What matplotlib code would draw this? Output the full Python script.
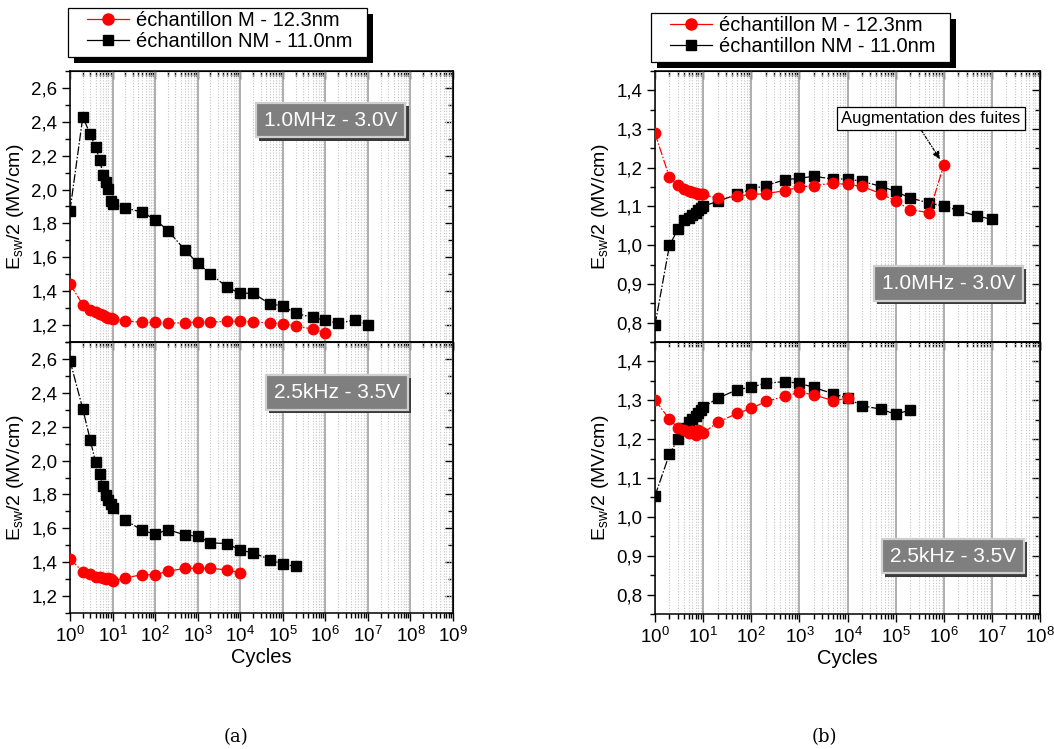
import matplotlib
matplotlib.use("Agg")
import matplotlib.pyplot as plt
from matplotlib.ticker import FixedLocator, LogLocator, NullFormatter, AutoMinorLocator, FuncFormatter, MultipleLocator
from matplotlib.patches import Rectangle
from matplotlib.lines import Line2D
import matplotlib.patheffects as pe

plt.rcParams['font.family'] = ['Liberation Sans', 'DejaVu Sans']
plt.rcParams['mathtext.fontset'] = 'custom'
plt.rcParams['mathtext.rm'] = 'Liberation Sans'
plt.rcParams['mathtext.it'] = 'Liberation Sans:italic'

# ---------------- data ----------------
cycles = [1, 2, 3, 4, 5, 6, 7, 8, 9, 10, 20, 50, 100, 200, 500, 1e3, 2e3, 5e3,
          1e4, 2e4, 5e4, 1e5, 2e5, 5e5, 1e6, 2e6, 5e6, 1e7]

# (a) 1.0MHz - 3.0V
a_top_M = [1.442, 1.320, 1.289, 1.275, 1.265, 1.257, 1.249, 1.243, 1.239, 1.235,
           1.225, 1.216, 1.216, 1.210, 1.214, 1.218, 1.218, 1.222, 1.222, 1.218,
           1.212, 1.208, 1.196, 1.176, 1.156]
a_top_NM = [1.876, 2.428, 2.326, 2.251, 2.176, 2.087, 2.044, 2.002, 1.935, 1.912,
            1.892, 1.866, 1.823, 1.758, 1.644, 1.565, 1.502, 1.423, 1.387, 1.389,
            1.324, 1.314, 1.269, 1.245, 1.229, 1.210, 1.231, 1.202]
# (a) 2.5kHz - 3.5V
a_bot_M = [1.419, 1.344, 1.332, 1.313, 1.313, 1.308, 1.303, 1.308, 1.303, 1.289,
           1.308, 1.326, 1.326, 1.346, 1.364, 1.364, 1.364, 1.354, 1.338]
a_bot_NM = [2.590, 2.304, 2.120, 1.990, 1.918, 1.849, 1.795, 1.766, 1.742, 1.717,
            1.648, 1.588, 1.565, 1.592, 1.561, 1.553, 1.514, 1.510, 1.470, 1.456,
            1.415, 1.389, 1.375]
# (b) 1.0MHz - 3.0V
b_top_M = [1.289, 1.175, 1.156, 1.145, 1.141, 1.138, 1.135, 1.133, 1.131, 1.131,
           1.121, 1.126, 1.131, 1.133, 1.141, 1.150, 1.154, 1.160, 1.157, 1.152,
           1.133, 1.114, 1.092, 1.084, 1.207]
b_top_NM = [0.794, 1.000, 1.041, 1.066, 1.071, 1.077, 1.084, 1.091, 1.097, 1.101,
            1.113, 1.131, 1.145, 1.154, 1.169, 1.173, 1.178, 1.171, 1.171, 1.165,
            1.152, 1.139, 1.122, 1.109, 1.101, 1.090, 1.075, 1.067]
# (b) 2.5kHz - 3.5V
b_bot_M = [1.301, 1.251, 1.229, 1.224, 1.215, 1.220, 1.210, 1.224, 1.218, 1.216,
           1.243, 1.266, 1.279, 1.297, 1.310, 1.321, 1.314, 1.299, 1.305]
b_bot_NM = [1.054, 1.162, 1.200, 1.228, 1.243, 1.252, 1.260, 1.268, 1.275, 1.282,
            1.305, 1.327, 1.334, 1.344, 1.348, 1.344, 1.333, 1.317, 1.305, 1.286,
            1.277, 1.264, 1.275]

label_M = "échantillon M - 12.3nm"
label_NM = "échantillon NM - 11.0nm"
cond_top = "1.0MHz - 3.0V"
cond_bot = "2.5kHz - 3.5V"
ylabel = r"E$_{\mathregular{sw}}$/2 (MV/cm)"
xlabel = "Cycles"
a_xexp = list(range(0, 10))
b_xexp = list(range(0, 9))

# ---------------- figure ----------------
W, H = 1054, 749
fig = plt.figure(figsize=(W / 100, H / 100), dpi=100)


def px_axes(x0, y0, x1, y1):
    return fig.add_axes([x0 / W, 1 - y1 / H, (x1 - x0) / W, (y1 - y0) / H])


dash = (0, (7, 1.5, 1.2, 1.5))


def setup(ax, ylim, ystep, xexp, show_xlabels):
    ax.set_xscale('log')
    ax.set_xlim(10 ** xexp[0], 10 ** xexp[-1])
    ax.set_ylim(*ylim)
    ax.xaxis.set_major_locator(FixedLocator([10.0 ** e for e in xexp]))
    ax.xaxis.set_minor_locator(LogLocator(base=10, subs=range(2, 10), numticks=40))
    ax.xaxis.set_minor_formatter(NullFormatter())
    if show_xlabels:
        ax.set_xticklabels([r"$\mathregular{10^{%d}}$" % e for e in xexp])
        ax.set_xlabel(xlabel, fontsize=14.5, labelpad=2)
    else:
        ax.set_xticklabels([])
    ax.yaxis.set_major_locator(MultipleLocator(ystep))
    ax.yaxis.set_minor_locator(AutoMinorLocator(2))
    ax.yaxis.set_major_formatter(FuncFormatter(lambda v, p: ("%.1f" % v).replace('.', ',')))
    ax.tick_params(which='both', direction='out', top=False, right=False, labelsize=13.5, width=1)
    ax.tick_params(which='major', length=6, pad=3)
    ax.tick_params(which='minor', length=3.5)
    ax.set_axisbelow(True)
    ax.grid(True, which='major', axis='x', color='#a8a8a8', lw=1.3, ls='-')
    ax.grid(True, which='minor', axis='x', color='#c4c4c4', lw=0.8, ls=(0, (1, 1.5)))
    for s in ax.spines.values():
        s.set_linewidth(1.1)
    ax.set_ylabel(ylabel, fontsize=14, labelpad=4)
    # mirrored inward ticks
    sx = ax.secondary_xaxis('top')
    sx.xaxis.set_major_locator(FixedLocator([10.0 ** e for e in xexp]))
    sx.xaxis.set_minor_locator(LogLocator(base=10, subs=range(2, 10), numticks=40))
    sx.tick_params(which='both', direction='in', labeltop=False, width=1)
    sx.tick_params(which='major', length=6)
    sx.tick_params(which='minor', length=3.5)
    sx.xaxis.set_major_formatter(NullFormatter())
    sx.xaxis.set_minor_formatter(NullFormatter())
    sy = ax.secondary_yaxis('right')
    sy.yaxis.set_major_locator(MultipleLocator(ystep))
    sy.yaxis.set_minor_locator(AutoMinorLocator(2))
    sy.tick_params(which='both', direction='in', labelright=False, width=1)
    sy.tick_params(which='major', length=6)
    sy.tick_params(which='minor', length=3.5)


def plot_series(ax, yM, yNM):
    ax.plot(cycles[:len(yNM)], yNM, color='black', lw=0.9, ls=dash,
            marker='s', ms=6.5, mec='black', mfc='black', zorder=3)
    ax.plot(cycles[:len(yM)], yM, color='#ff0000', lw=0.9, ls=dash,
            marker='o', ms=7.5, mec='#ff0000', mfc='#ff0000', zorder=4)


def cond_box(ax, x, y, s):
    t = ax.text(x, y, s, transform=ax.transAxes, ha='center', va='center',
                color='white', fontsize=15, zorder=6,
                bbox=dict(boxstyle='square,pad=0.38', fc='#7f7f7f', ec='#cfcfcf', lw=1.6))
    t.get_bbox_patch().set_path_effects([
        pe.SimplePatchShadow(offset=(2.2, -2.2), shadow_rgbFace='#3a3a3a', alpha=1.0),
        pe.Normal()])


# (a)
axA1 = px_axes(70, 71, 453, 342)
axA2 = px_axes(70, 342, 453, 613)
setup(axA1, (1.1, 2.7), 0.2, a_xexp, False)
setup(axA2, (1.1, 2.7), 0.2, a_xexp, True)
plot_series(axA1, a_top_M, a_top_NM)
plot_series(axA2, a_bot_M, a_bot_NM)
cond_box(axA1, 0.681, 0.819, cond_top)
cond_box(axA2, 0.696, 0.815, cond_bot)

# (b)
axB1 = px_axes(655, 71, 1040, 342)
axB2 = px_axes(655, 342, 1040, 614)
setup(axB1, (0.75, 1.45), 0.1, b_xexp, False)
setup(axB2, (0.75, 1.45), 0.1, b_xexp, True)
plot_series(axB1, b_top_M, b_top_NM)
plot_series(axB2, b_bot_M, b_bot_NM)
cond_box(axB1, 0.762, 0.216, cond_top)
cond_box(axB2, 0.775, 0.213, cond_bot)

axB1.annotate("Augmentation des fuites", xy=(cycles[24], b_top_M[24]), xycoords='data',
              xytext=(0.717, 0.825), textcoords='axes fraction', ha='center', va='center',
              fontsize=12, zorder=7,
              bbox=dict(boxstyle='square,pad=0.25', fc='white', ec='black', lw=0.9),
              arrowprops=dict(arrowstyle='-|>', color='black', lw=0.9, ls=(0, (2, 1.5, 0.6, 1.5)),
                              relpos=(0.43, 0.0), shrinkA=0, shrinkB=5, mutation_scale=11))

# legends: frame + shadow drawn in pixel coordinates, entries from fig.legend
hM = Line2D([], [], color='#ff0000', lw=0.9, marker='o', ms=8)
hNM = Line2D([], [], color='black', lw=0.9, marker='s', ms=7)
for (fx0, fy0, fx1, fy1) in [(68, 8, 367, 57), (651, 13, 950, 62)]:
    # shadow
    fig.patches.append(Rectangle((fx0 + 6, H - fy1 - 6), fx1 - fx0, fy1 - fy0,
                                 transform=None, fc='black', ec='none', zorder=8))
    fig.patches.append(Rectangle((fx0, H - fy1), fx1 - fx0, fy1 - fy0,
                                 transform=None, fc='white', ec='black', lw=0.9, zorder=9))
    lg = fig.legend([hM, hNM], [label_M, label_NM], loc='upper left',
                    bbox_to_anchor=((fx0 + 19) / W, 1 - (fy0 + 3) / H),
                    bbox_transform=fig.transFigure,
                    fontsize=14.5, frameon=False, handlelength=2.1, handletextpad=0.35,
                    borderpad=0, labelspacing=0.1, borderaxespad=0)
    lg.set_zorder(10)

# captions
fig.text(236 / W, 1 - 737 / H, "(a)", ha='center', va='center', fontsize=13, family='DejaVu Serif')
fig.text(824 / W, 1 - 737 / H, "(b)", ha='center', va='center', fontsize=13, family='DejaVu Serif')

fig.savefig("out.png", dpi=100)
